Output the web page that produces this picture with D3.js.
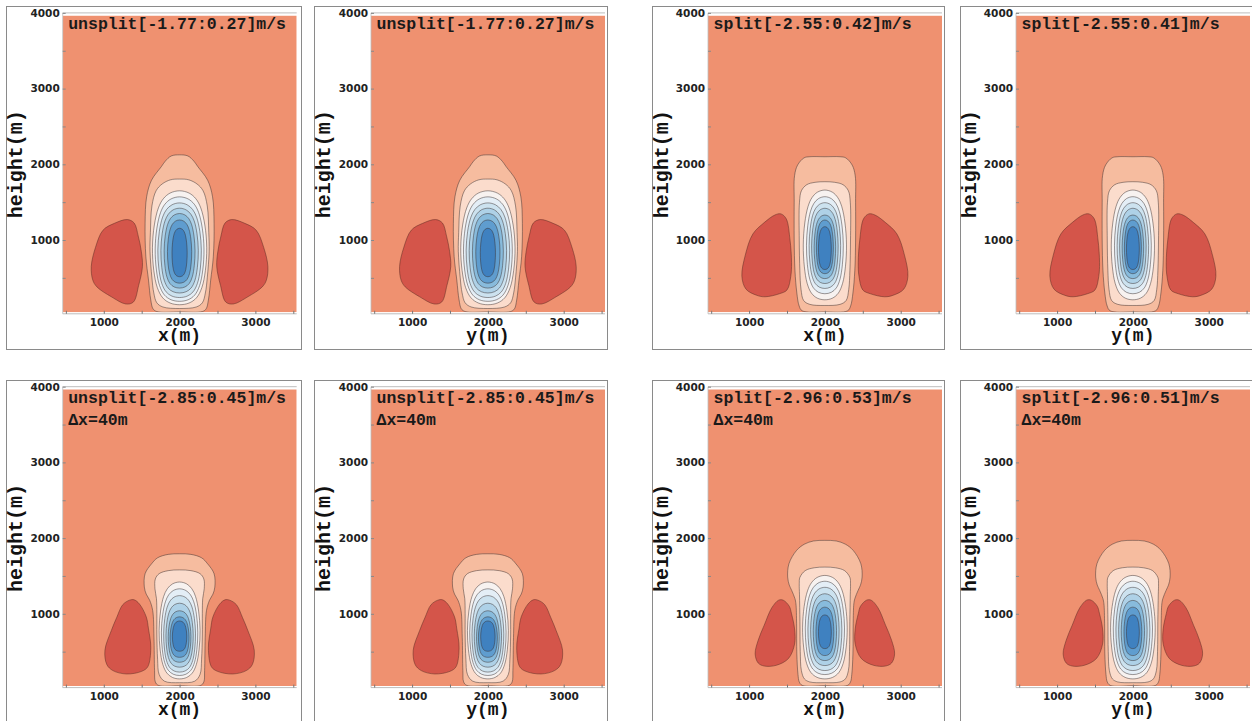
<!DOCTYPE html>
<html><head><meta charset="utf-8">
<script src="https://cdn.jsdelivr.net/npm/d3@7"></script>
<style>body{margin:0;background:#fff;} svg{display:block}</style>
</head><body>
<svg id="chart" width="1252" height="721"></svg>
<script>
// ---------------- data ----------------
const xTickLabels = [1000, 2000, 3000];
const yTickLabels = [1000, 2000, 3000, 4000];
const xMinorTicks = [500, 1000, 1500, 2000, 2500, 3000, 3500];
const yMinorTicks = [500, 1000, 1500, 2000, 2500, 3000, 3500, 4000];

const panelTitles = ["unsplit[-1.77:0.27]m/s","unsplit[-1.77:0.27]m/s","split[-2.55:0.42]m/s","split[-2.55:0.41]m/s",
                     "unsplit[-2.85:0.45]m/s","unsplit[-2.85:0.45]m/s","split[-2.96:0.53]m/s","split[-2.96:0.51]m/s"];
const panelSubtitles = ["","","","","Δx=40m","Δx=40m","Δx=40m","Δx=40m"];
const panelAxisNames = ["x","y","x","y","x","y","x","y"];
const panelFields = ["A","A","B","B","C","C","D","D"];

// contour level fill colours, outermost (0 m/s) to innermost (most negative)
const levelColors = ["#f6bc9f","#fbdccc","#f7f2f0","#e4eef6","#cce2ef","#aed1e7","#88bbdc","#5f9dcf","#3f81c0"];
const backgroundColor = "#ef9170";
const positiveColor = "#d4554a";

// plume contour profiles: [height (m), half width (m)] from top to bottom, centred on 2000 m
const A_outer  = [[2125,0],[2110,110],[2040,190],[1970,240],[1790,370],[1570,435],[1220,455],[780,445],[470,410],[207,380],[90,350],[55,300],[50,0]];
const A_second = [[1805,0],[1795,120],[1740,230],[1650,310],[1450,365],[1100,385],[850,390],[500,365],[300,340],[170,300],[115,220],[95,0]];
const A_innerTop    = [1650,1570,1490,1420,1350,1265,1155];
const A_innerBottom = [145,190,240,300,365,430,515];
const A_innerHalfW  = [358,322,287,247,204,160,100];
const A_lobe = [[2600,1225],[2690,1270],[2860,1220],[3010,1130],[3110,900],[3165,650],[3145,470],[3090,380],[2900,250],[2710,155],[2610,180],[2540,400],[2490,650],[2505,850],[2545,1050]];

const B_outer  = [[2100,0],[2100,200],[2085,275],[1990,360],[1850,400],[1500,405],[1000,405],[600,395],[300,370],[130,340],[65,300],[50,0]];
const B_second = [[1770,0],[1762,130],[1730,240],[1650,310],[1500,335],[1000,338],[600,330],[350,315],[200,280],[150,200],[135,0]];
const B_innerTop    = [1660,1572,1493,1419,1330,1264,1176];
const B_innerBottom = [210,290,360,425,490,555,610];
const B_innerHalfW  = [285,243,208,175,142,112,85];
const B_lobe = [[2510,1280],[2580,1345],[2660,1330],[2800,1230],[2950,1080],[3050,800],[3095,520],[3040,350],[2900,270],[2790,250],[2600,290],[2500,340],[2450,520],[2440,700],[2460,1000]];

const C_outer  = [[1793,0],[1785,150],[1740,290],[1660,370],[1530,455],[1353,465],[1260,440],[1180,395],[1044,355],[690,338],[250,330],[100,320],[55,280],[50,0]];
const C_second = [[1580,0],[1570,150],[1530,270],[1460,320],[1330,325],[1200,305],[1000,300],[720,300],[400,290],[200,270],[110,200],[90,0]];
const C_innerTop    = [1420,1330,1240,1140,1040,960,905];
const C_innerBottom = [140,185,230,295,360,425,505];
const C_innerHalfW  = [270,240,210,180,150,125,95];
const C_lobe = [[2530,1130],[2600,1185],[2660,1180],[2750,1120],[2830,950],[2900,780],[2985,520],[2960,330],[2880,250],[2700,205],[2500,240],[2420,300],[2380,550],[2410,800],[2440,960]];

const D_outer  = [[1970,0],[1962,150],[1920,270],[1838,373],[1662,474],[1485,491],[1380,470],[1309,438],[1200,395],[1132,382],[868,373],[470,370],[200,355],[100,338],[55,300],[50,0]];
const D_second = [[1617,0],[1608,140],[1570,260],[1480,330],[1397,338],[1250,335],[900,329],[500,325],[250,310],[140,270],[100,200],[90,0]];
const D_innerTop    = [1507,1430,1350,1265,1177,1088,985];
const D_innerBottom = [140,197,250,316,382,448,540];
const D_innerHalfW  = [294,259,224,188,154,118,85];
const D_lobe = [[2470,1100],[2550,1180],[2610,1180],[2700,1080],[2800,850],[2880,650],[2920,470],[2880,350],[2800,310],[2640,320],[2480,410],[2400,600],[2400,800],[2440,1000]];

// common shape of the inner closed contours: [fraction from top, fraction of half width]
const innerShape = [[0,0],[0.02,0.35],[0.07,0.6],[0.15,0.78],[0.3,0.93],[0.5,1],[0.7,0.95],[0.85,0.82],[0.94,0.62],[0.985,0.35],[1,0]];

const fields = {
  A:{outer:A_outer, second:A_second, top:A_innerTop, bottom:A_innerBottom, hw:A_innerHalfW, lobe:A_lobe},
  B:{outer:B_outer, second:B_second, top:B_innerTop, bottom:B_innerBottom, hw:B_innerHalfW, lobe:B_lobe},
  C:{outer:C_outer, second:C_second, top:C_innerTop, bottom:C_innerBottom, hw:C_innerHalfW, lobe:C_lobe},
  D:{outer:D_outer, second:D_second, top:D_innerTop, bottom:D_innerBottom, hw:D_innerHalfW, lobe:D_lobe}
};

// ---------------- layout ----------------
const plotLefts = [62.7, 371, 708, 1016];
const frameXs = [[6.5,301.5],[314.5,607.5],[652.5,944.5],[960.5,1262]];
const rowFrameY = [[6.5,349.5],[380.5,760]];
const rowYRange = [[315.7,12.9],[689.5,386.7]];
const plotW = 234;
const xDomain = [458, 3545];
const center = 2000;

const svg = d3.select("#chart");
const defs = svg.append("defs");
const monoFont = "'Liberation Mono','Courier New',monospace";
const tickFont = "'DejaVu Sans',sans-serif";

function profileToPoints(rows){
  const right = rows.map(([z,w]) => [center + w, z]);
  const left = rows.slice(1,-1).reverse().map(([z,w]) => [center - w, z]);
  return right.concat(left);
}

panelTitles.forEach((title, i) => {
  const col = i % 4, row = Math.floor(i / 4);
  const f = fields[panelFields[i]];
  const xs = d3.scaleLinear().domain(xDomain).range([plotLefts[col], plotLefts[col] + plotW]);
  const ys = d3.scaleLinear().domain([0,4000]).range(rowYRange[row]);
  const g = svg.append("g");

  // frame
  g.append("rect")
    .attr("x", frameXs[col][0]).attr("y", rowFrameY[row][0])
    .attr("width", frameXs[col][1]-frameXs[col][0]).attr("height", rowFrameY[row][1]-rowFrameY[row][0])
    .attr("fill","none").attr("stroke","#8a8a8a").attr("stroke-width",1);

  // clip
  const cid = "clip"+i;
  defs.append("clipPath").attr("id",cid).append("rect")
    .attr("x", xs(xDomain[0])).attr("y", ys(3965))
    .attr("width", xs(xDomain[1]) - xs(xDomain[0])).attr("height", ys(45) - ys(3965));
  const pg = g.append("g").attr("clip-path", `url(#${cid})`);

  pg.append("rect")
    .attr("x", xs(xDomain[0])).attr("y", ys(3965))
    .attr("width", xs(xDomain[1]) - xs(xDomain[0])).attr("height", ys(45) - ys(3965))
    .attr("fill", backgroundColor);

  const line = d3.line().x(d => xs(d[0])).y(d => ys(d[1])).curve(d3.curveCatmullRomClosed.alpha(0.5));

  // positive lobes (right and mirrored left)
  const lobes = [f.lobe, f.lobe.map(([x,z]) => [2*center - x, z])];
  pg.selectAll("path.lobe").data(lobes).join("path").attr("class","lobe")
    .attr("d", line).attr("fill", positiveColor)
    .attr("stroke","#5a2a22").attr("stroke-opacity",0.7).attr("stroke-width",0.7);

  // plume contours
  const contours = [f.outer, f.second];
  f.top.forEach((t, k) => {
    const b = f.bottom[k], w = f.hw[k];
    contours.push(innerShape.map(([fr, wf]) => [t - fr*(t-b), wf*w]));
  });
  pg.selectAll("path.lev").data(contours).join("path").attr("class","lev")
    .attr("d", d => line(profileToPoints(d)))
    .attr("fill", (d,k) => levelColors[k])
    .attr("stroke","#3a3030").attr("stroke-opacity",0.65).attr("stroke-width",0.75);

  // axis lines
  const axCol = "#bdbdbd";
  g.append("line").attr("x1", xs(xDomain[0])).attr("x2", xs(xDomain[1])).attr("y1", ys(4000)).attr("y2", ys(4000)).attr("stroke", axCol);
  g.append("line").attr("x1", xs(xDomain[0])).attr("x2", xs(xDomain[1])).attr("y1", ys(25)).attr("y2", ys(25)).attr("stroke", axCol);
  g.append("line").attr("x1", xs(xDomain[0])).attr("x2", xs(xDomain[0])).attr("y1", ys(4000)).attr("y2", ys(25)).attr("stroke", axCol).attr("stroke-width",0.8);

  // minor/major tick marks (inward)
  const bx = g.append("g").attr("transform",`translate(0,${ys(25)})`)
    .call(d3.axisBottom(xs).tickValues(xMinorTicks).tickSize(-3).tickSizeOuter(0).tickFormat(""));
  bx.select(".domain").remove();
  bx.selectAll(".tick line").attr("stroke","#777");
  const ly = g.append("g").attr("transform",`translate(${xs(xDomain[0])},0)`)
    .call(d3.axisLeft(ys).tickValues(yMinorTicks).tickSize(-3).tickSizeOuter(0).tickFormat(""));
  ly.select(".domain").remove();
  ly.selectAll(".tick line").attr("stroke","#888");

  // tick labels
  const fmt = d3.format("d");
  const bxl = g.append("g").attr("transform",`translate(0,${ys(25)})`)
    .call(d3.axisBottom(xs).tickValues(xTickLabels).tickSize(0).tickPadding(5).tickFormat(fmt));
  bxl.select(".domain").remove();
  bxl.selectAll("text").attr("font-family", tickFont).attr("font-weight","bold").attr("font-size","10.5px").attr("fill","#222");
  const lyl = g.append("g").attr("transform",`translate(${xs(xDomain[0])},0)`)
    .call(d3.axisLeft(ys).tickValues(yTickLabels).tickSize(0).tickPadding(3).tickFormat(fmt));
  lyl.select(".domain").remove();
  lyl.selectAll("text").attr("font-family", tickFont).attr("font-weight","bold").attr("font-size","10.5px").attr("fill","#222");

  // axis names
  g.append("text").attr("x", xs(center)).attr("y", ys(25) + 27.5)
    .attr("text-anchor","middle").attr("font-family", monoFont).attr("font-weight","bold").attr("font-size","18px")
    .attr("fill","#111").text(panelAxisNames[i] + "(m)");
  const ly0 = (rowYRange[row][0] + rowYRange[row][1]) / 2;
  g.append("text").attr("transform",`translate(${frameXs[col][0] + 15.5},${ly0}) rotate(-90)`)
    .attr("text-anchor","middle").attr("font-family", monoFont).attr("font-weight","bold").attr("font-size","20px")
    .attr("fill","#111").text("height(m)");

  // titles
  g.append("text").attr("x", xs(xDomain[0]) + 5.5).attr("y", ys(4000) + 16)
    .attr("font-family", monoFont).attr("font-weight","bold").attr("font-size","16.5px").attr("fill","#1a1a1a")
    .text(title);
  if (panelSubtitles[i]) {
    g.append("text").attr("x", xs(xDomain[0]) + 5.5).attr("y", ys(4000) + 38)
      .attr("font-family", monoFont).attr("font-weight","bold").attr("font-size","16.5px").attr("fill","#1a1a1a")
      .text(panelSubtitles[i]);
  }
});
</script>
</body></html>
